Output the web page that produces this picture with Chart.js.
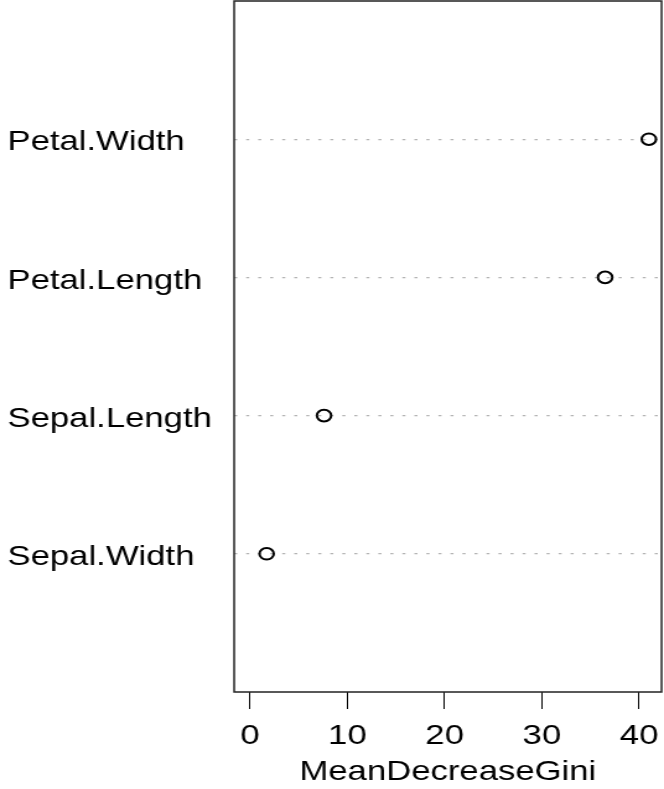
<!doctype html>
<html lang="en">
<head>
<meta charset="utf-8">
<title>MeanDecreaseGini</title>
<script src="https://cdn.jsdelivr.net/npm/chart.js"></script>
<style>
  html,body{margin:0;padding:0;background:#fff;overflow:hidden}
  /* the reference is stretched sideways, so draw narrow and widen */
  #wrap{width:536px;height:789px;transform:scaleX(1.2388);transform-origin:0 0}
</style>
</head>
<body>
<div id="wrap"><canvas id="chart" width="536" height="789"></canvas></div>

<script>
/* ---------- data (bottom to top, as the dot chart lists them) -------- */
const varNames   = ['Sepal.Width','Sepal.Length','Petal.Length','Petal.Width'];
const giniValues = [1.7, 7.6, 36.5, 41.0];
const xTicks     = [0, 10, 20, 30, 40];
const xTitle     = 'MeanDecreaseGini';

const FONT = {family:"'Liberation Sans', Arial, sans-serif", size:28};

/* no extra room for half labels at the scale ends */
function noPad(s){s.paddingTop=s.paddingBottom=s.paddingLeft=s.paddingRight=0;}

/* ---------- box round the plot area ---------------------------------- */
const boxPlugin={
  id:'box',
  afterDraw(chart){
    const {ctx,chartArea:a}=chart;
    ctx.save();
    ctx.strokeStyle='#222'; ctx.lineWidth=1.5;
    ctx.strokeRect(a.left,a.top,a.right-a.left,a.bottom-a.top);
    ctx.restore();
  }
};

new Chart(document.getElementById('chart'),{
  type:'scatter',
  data:{datasets:[{
    data:giniValues.map((v,i)=>({x:v,y:i+1})),
    pointStyle:'circle', pointRadius:5.8, pointHoverRadius:5.8,
    borderWidth:2, borderColor:'#000', backgroundColor:'rgba(0,0,0,0)'
  }]},
  options:{
    responsive:false, animation:false, devicePixelRatio:1,
    layout:{autoPadding:false,padding:{left:6,top:1,right:2,bottom:0}},
    plugins:{legend:{display:false},tooltip:{enabled:false}},
    scales:{
      x:{
        type:'linear', min:-1.64, max:42.3,
        afterBuildTicks:s=>{s.ticks=xTicks.map(v=>({value:v}));},
        afterFit:s=>{s.height=97; noPad(s);},
        grid:{drawOnChartArea:false,drawTicks:true,tickLength:17,tickColor:'#000',tickWidth:1},
        border:{display:false},
        ticks:{font:FONT,color:'#000',padding:10,autoSkip:false,maxRotation:0},
        title:{display:true,text:xTitle,font:FONT,color:'#000',padding:0}
      },
      y:{
        type:'linear', min:0, max:5,
        afterBuildTicks:s=>{s.ticks=varNames.map((n,i)=>({value:i+1}));},
        afterFit:s=>{s.width=183; noPad(s);},
        grid:{drawTicks:false,color:'#b4b4b4',lineWidth:1.2},
        border:{display:false,dash:[2.5,7.2]},
        ticks:{font:FONT,color:'#000',padding:0,crossAlign:'far',labelOffset:3.5,
               callback:v=>varNames[v-1]}
      }
    }
  },
  plugins:[boxPlugin]
});
</script>
</body>
</html>
